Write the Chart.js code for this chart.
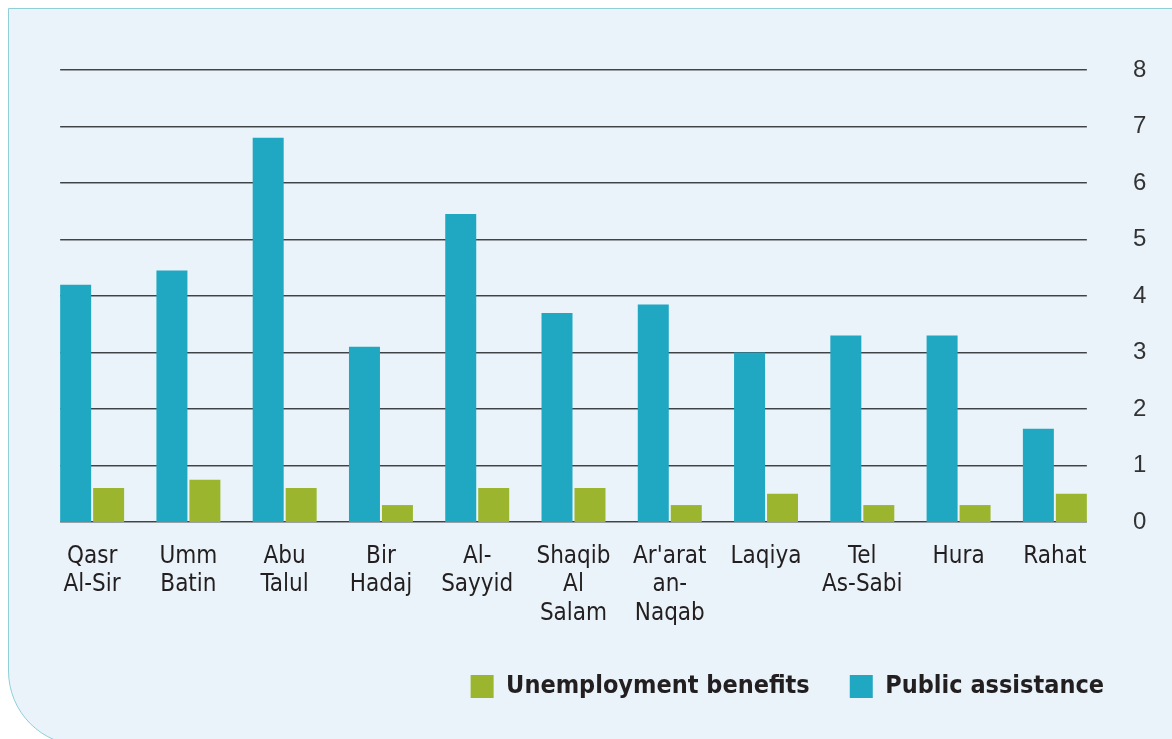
<!DOCTYPE html>
<html lang="en">
<head>
  <meta charset="UTF-8" />
  <title>Unemployment benefits and public assistance by locality</title>
  <script src="https://cdn.jsdelivr.net/npm/chart.js"></script>
  <style>
    body {
      margin: 0;
      width: 1172px;
      height: 739px;
      overflow: hidden;
      position: relative;
      background: #ffffff;
    }

    .panel {
      position: absolute;
      left: 8px;
      top: 8px;
      width: 1200px;
      height: 738px;
      box-sizing: border-box;
      background: #eaf3f9;
      border: 1px solid #8fcfd8;
      border-bottom-left-radius: 75px;
    }

    .chart-box {
      position: absolute;
      left: 0;
      top: 0;
      width: 1172px;
      height: 739px;
    }
  </style>
</head>
<body>
  <div class="panel"></div>
  <div class="chart-box">
    <canvas id="benefitsChart" width="1172" height="739"></canvas>
  </div>

  <script>
    const localities = [
      ['Qasr', 'Al-Sir'], ['Umm', 'Batin'], ['Abu', 'Talul'], ['Bir', 'Hadaj'],
      ['Al-', 'Sayyid'], ['Shaqib', 'Al', 'Salam'], ["Ar'arat", 'an-', 'Naqab'],
      ['Laqiya'], ['Tel', 'As-Sabi'], ['Hura'], ['Rahat']
    ];
    const publicAssistance = [4.2, 4.45, 6.8, 3.1, 5.45, 3.7, 3.85, 3.0, 3.3, 3.3, 1.65];
    const unemploymentBenefits = [0.6, 0.75, 0.6, 0.3, 0.6, 0.6, 0.3, 0.5, 0.3, 0.3, 0.5];
    const yMax = 8;

    const labelFont = "'DejaVu Sans Condensed', 'Liberation Sans Narrow', sans-serif";

    // grid lines only run from the first bar to the last bar, like the original
    const shortGrid = {
      id: 'shortGrid',
      beforeDatasetsDraw(chart) {
        const y = chart.scales.y;
        const first = chart.getDatasetMeta(0).data[0];
        const lastMeta = chart.getDatasetMeta(1).data;
        const last = lastMeta[lastMeta.length - 1];
        const x0 = first.x - first.width / 2;
        const x1 = last.x + last.width / 2;
        const ctx = chart.ctx;
        ctx.save();
        y.ticks.forEach(t => {
          const py = Math.round(y.getPixelForValue(t.value));
          ctx.fillStyle = '#9aa0a4';
          ctx.fillRect(x0, py, x1 - x0, 1);
          ctx.fillStyle = '#3f4346';
          ctx.fillRect(x0, py - 1, x1 - x0, 1);
        });
        ctx.restore();
      }
    };

    // legend sits a little left of the axis numbers
    const legendNudge = {
      id: 'legendNudge',
      afterLayout(chart) {
        chart.legend.left -= 19;
        chart.legend.right -= 19;
      }
    };

    new Chart(document.getElementById('benefitsChart'), {
      type: 'bar',
      data: {
        labels: localities,
        datasets: [
          {
            label: 'Public assistance',
            data: publicAssistance,
            backgroundColor: '#20a8c3',
            borderWidth: 0,
            categoryPercentage: 0.685,
            barPercentage: 0.94
          },
          {
            label: 'Unemployment benefits',
            data: unemploymentBenefits,
            backgroundColor: '#9bb62e',
            borderWidth: 0,
            categoryPercentage: 0.685,
            barPercentage: 0.94
          }
        ]
      },
      options: {
        responsive: false,
        animation: false,
        maintainAspectRatio: false,
        layout: {
          padding: { left: 44, right: 9, top: 70, bottom: 30 }
        },
        plugins: {
          tooltip: { enabled: false },
          legend: {
            position: 'bottom',
            align: 'end',
            reverse: true,
            labels: {
              boxWidth: 23,
              boxHeight: 23,
              padding: 40,
              color: '#231f20',
              font: { family: labelFont, size: 25, weight: 'bold' }
            }
          }
        },
        scales: {
          x: {
            grid: { display: false, drawTicks: false },
            border: { display: false },
            ticks: {
              color: '#231f20',
              padding: 20,
              maxRotation: 0,
              autoSkip: false,
              font: { family: labelFont, size: 24, lineHeight: 1.2 }
            },
            afterFit(scale) { scale.height = 112; }
          },
          y: {
            position: 'right',
            min: 0,
            max: yMax,
            grid: { display: false, drawTicks: false },
            border: { display: false },
            ticks: {
              stepSize: 1,
              padding: 30,
              color: '#333333',
              font: { family: "'Liberation Sans', Arial, sans-serif", size: 24 }
            },
            afterFit(scale) { scale.width = 60; }
          }
        }
      },
      plugins: [shortGrid, legendNudge]
    });
  </script>
</body>
</html>
